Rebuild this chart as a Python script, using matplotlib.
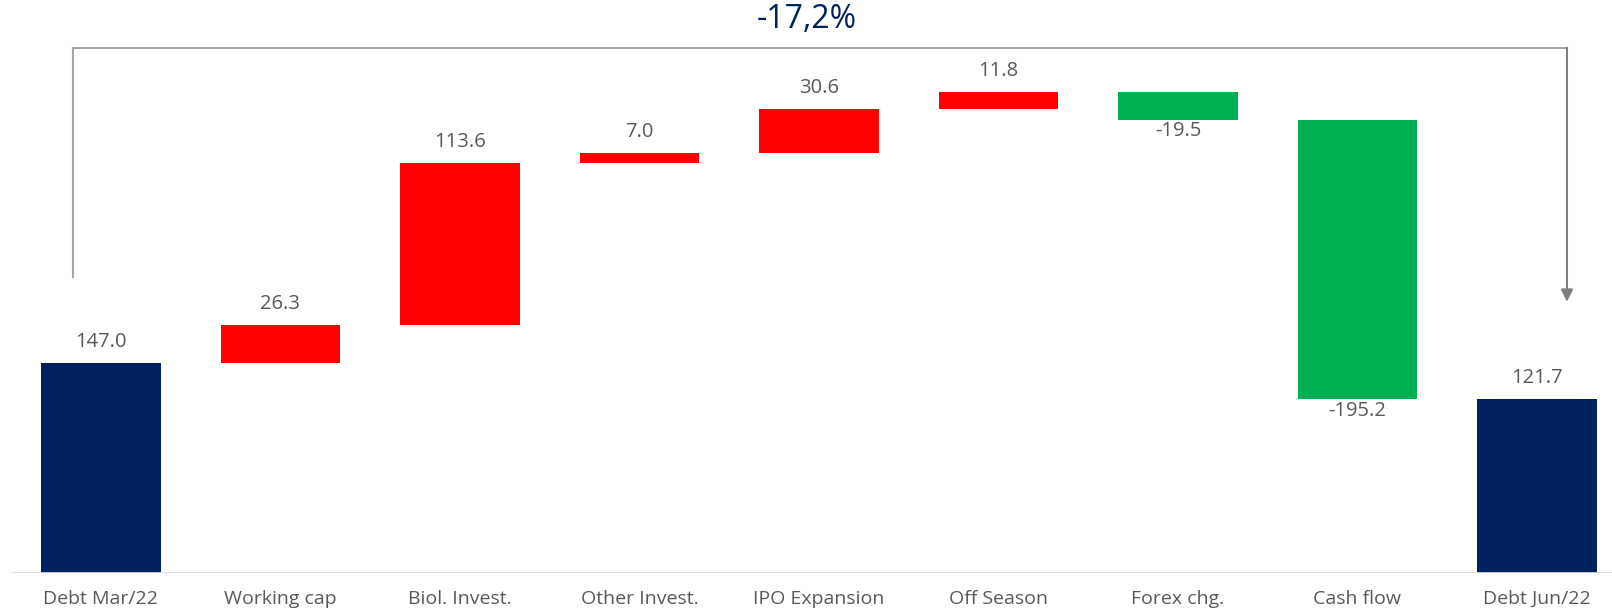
import matplotlib
matplotlib.use("Agg")
import matplotlib.pyplot as plt
import numpy as np

# Data
categories = ['Debt Mar/22', 'Working cap', 'Biol. Invest.', 'Other Invest.', 'IPO Expansion',
              'Off Season', 'Forex chg.', 'Cash flow', 'Debt Jun/22']
changes = [147.0, 26.3, 113.6, 7.0, 30.6, 11.8, -19.5, -195.2, 121.7]
labels = ['147.0', '26.3', '113.6', '7.0', '30.6', '11.8', '-19.5', '-195.2', '121.7']
total_change = '-17,2%'

navy = '#002060'
red = '#FF0000'
green = '#00B050'
label_color = '#595959'

plt.rcParams['font.family'] = ['Open Sans', 'DejaVu Sans']

# Bottoms / heights for waterfall
bottoms = []
heights = []
colors = []
running = 0.0
for i, v in enumerate(changes):
    if i == 0 or i == len(changes) - 1:
        bottoms.append(0)
        heights.append(v)
        colors.append(navy)
        running = v if i == 0 else running
    else:
        bottoms.append(running if v >= 0 else running + v)
        heights.append(abs(v))
        colors.append(red if v >= 0 else green)
        running += v

fig = plt.figure(figsize=(16.12, 6.13), dpi=100)
ax = fig.add_axes([0, 40 / 613, 1, 573 / 613])
x = np.arange(len(categories))
ax.bar(x, heights, bottom=bottoms, width=0.663, color=colors, edgecolor='none')

ax.set_xlim(-101 / 179.5, (1612 - 101) / 179.5)
ax.set_ylim(0, 573 / 1.43)

# Value labels
for i, v in enumerate(changes):
    if v >= 0:
        ax.annotate(labels[i], (x[i], bottoms[i] + heights[i]), xytext=(0, 8),
                    textcoords='offset points', ha='center', va='bottom',
                    fontsize=14.5, color=label_color)
    else:
        ax.annotate(labels[i], (x[i], bottoms[i]), xytext=(0, -1),
                    textcoords='offset points', ha='center', va='top',
                    fontsize=14.5, color=label_color)

# Baseline
ax.axhline(0, xmin=12 / 1612, xmax=1, color='#d9d9d9', linewidth=2)

# Bracket with arrow showing total change
top = max(np.cumsum(changes[:-1])) + 31
left_x = x[0] - 0.156
right_x = x[-1] + 0.167
ax.plot([left_x, left_x, right_x], [changes[0] + 60, top, top], color='#a6a6a6', linewidth=1.5)
ax.annotate('', xy=(right_x, changes[-1] + 68), xytext=(right_x, top),
            arrowprops=dict(arrowstyle='-|>', color='#7f7f7f', lw=1.5,
                            mutation_scale=18, shrinkA=0, shrinkB=0))
fig.text((757 + 857) / 2 / 1612, 1 - 20 / 613, total_change, ha='center', va='center',
         fontsize=23, color=navy)

ax.set_xticks(x)
ax.set_xticklabels(categories, fontsize=14, color=label_color)
ax.tick_params(axis='x', length=0, pad=12)
ax.set_yticks([])
for s in ax.spines.values():
    s.set_visible(False)

fig.savefig('out.png', dpi=100)
